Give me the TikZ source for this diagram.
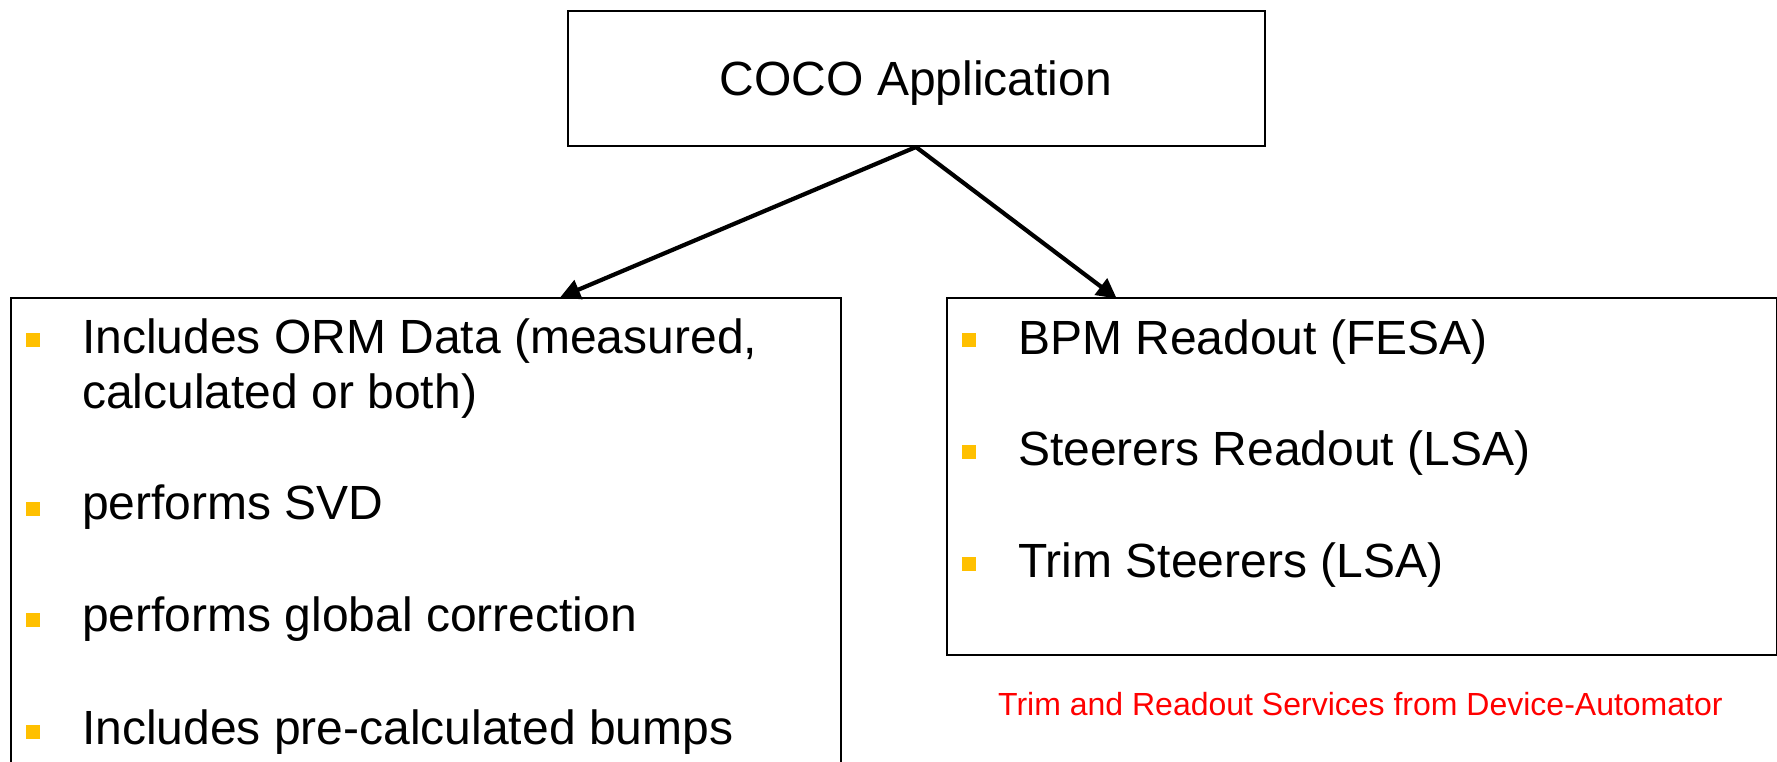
\documentclass[tikz,border=0pt]{standalone}
\usepackage{fontspec}
\setmainfont{Liberation Sans}
\usetikzlibrary{arrows.meta}
\definecolor{bulletgold}{RGB}{255,192,0}
\definecolor{notered}{RGB}{255,0,0}
\begin{document}
\begin{tikzpicture}[x=1pt,y=-1pt,
  boxline/.style={draw=black,line width=2pt,rectangle,inner sep=0pt},
  bigtext/.style={font=\fontsize{48}{55}\selectfont,inner sep=0pt,anchor=base west},
  bulletsq/.style={fill=bulletgold,draw=none,minimum size=14pt,inner sep=0pt,rectangle},
  conn/.style={line width=4.2pt,-{Triangle[length=20pt,width=20pt]},shorten >=-1pt}
]
\useasboundingbox (0,0) rectangle (1777,761);
\clip (0,0) rectangle (1777,761);
% top box
\node[boxline,minimum width=697pt,minimum height=135pt,
      font=\fontsize{48}{55}\selectfont,text height=33pt,text depth=0pt]
      (coco) at (916,78.5) {COCO Application};
% left box
\node[boxline,anchor=north west,minimum width=830pt,minimum height=520pt] (lbox) at (10,297) {};
% right box
\node[boxline,anchor=north west,minimum width=830pt,minimum height=357pt] (rbox) at (946,297) {};
% connectors
\coordinate (apex) at (916,147);
\coordinate (ltip) at (561,297);
\coordinate (rtip) at (1116,298);
\draw[conn] (apex) -- (ltip);
\draw[conn] (apex) -- (rtip);
% left bullets
\node[bulletsq] (lb1) at (32.7,340) {};
\node[bulletsq] (lb2) at (32.7,508.5) {};
\node[bulletsq] (lb3) at (32.7,620) {};
\node[bulletsq] (lb4) at (32.7,731.5) {};
\node[bigtext] (lt1a) at (82,353) {Includes ORM Data (measured,};
\node[bigtext] (lt1b) at (82,408) {calculated or both)};
\node[bigtext] (lt2) at (82,519) {performs SVD};
\node[bigtext] (lt3) at (82,631) {performs global correction};
\node[bigtext] (lt4) at (82,744) {Includes pre-calculated bumps};
% right bullets
\node[bulletsq] (rb1) at (969,340) {};
\node[bulletsq] (rb2) at (969,452) {};
\node[bulletsq] (rb3) at (969,564) {};
\node[bigtext] (rt1) at (1018,354) {BPM Readout (FESA)};
\node[bigtext] (rt2) at (1018,465) {Steerers Readout (LSA)};
\node[bigtext] (rt3) at (1018,577) {Trim Steerers (LSA)};
% note
\node[font=\fontsize{32}{38}\selectfont,text=notered,inner sep=0pt,anchor=base west]
  (note) at (998,715) {Trim and Readout Services from Device-Automator};
\end{tikzpicture}
\end{document}
